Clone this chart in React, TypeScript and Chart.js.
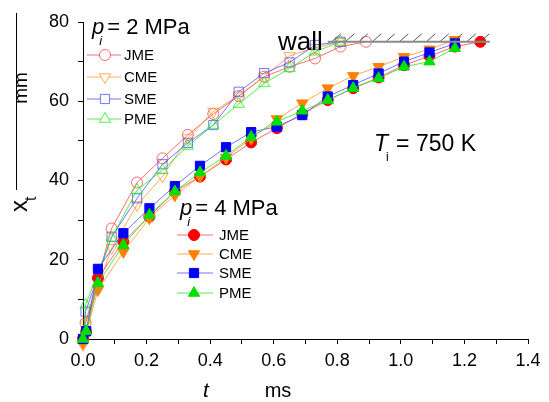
import { useEffect, useRef } from 'react';
import Chart from 'chart.js/auto';

// ---- Data (t in ms, x_t in mm) ----
const times2MPa = [0, 0.008, 0.09, 0.17, 0.25, 0.33, 0.41, 0.49, 0.57, 0.65, 0.73, 0.81, 0.89];
const jme2 = [0, 4, 27.9, 39.5, 45.6, 51.5, 56.8, 61.3, 66.2, 68.7, 70.8, 73.8, 75];
const cme2 = [-1.5, 4, 23, 33.8, 41.0, 50.7, 57.4, 61.5, 66.2, 71.5, 73.5, 75];
const sme2 = [0, 6.9, 25.8, 35.5, 44.1, 49.5, 54.0, 62.4, 67.1, 69.8, 74.2, 75];
const pme2 = [-0.3, 8.6, 25.5, 37.6, 42.6, 48.7, 54.0, 59.3, 64.5, 68.3, 72.5, 75];

const times4MPa = [0, 0.01, 0.047, 0.127, 0.209, 0.289, 0.368, 0.45, 0.529, 0.61, 0.69, 0.77, 0.85, 0.93, 1.01, 1.09, 1.17, 1.25];
const jme4 = [0, 1.8, 15.4, 24.6, 30.9, 37.2, 41.0, 45.3, 49.6, 53.2, 56.8, 60.3, 63.3, 66.0, 69.1, 71.4, 73.8, 75.0];
const cme4 = [-1, 1.5, 12.4, 22.0, 30.5, 36.3, 41.0, 45.8, 50.6, 55.5, 59.5, 63.3, 66.4, 68.7, 71.2, 73.1, 75.5];
const sme4 = [0, 2, 17.7, 26.7, 33.0, 38.6, 43.7, 48.4, 52.2, 53.6, 56.5, 61.2, 64.1, 67.0, 70.0, 72.3, 74.6];
const pme4 = [0, 2, 14.1, 23.7, 31.3, 37.2, 42.0, 46.2, 51.0, 54.8, 57.6, 60.3, 63.3, 65.8, 68.7, 70.0, 73.4];

const seriesNames = ['JME', 'CME', 'SME', 'PME'];
const values2MPa = [jme2, cme2, sme2, pme2];
const values4MPa = [jme4, cme4, sme4, pme4];

const xMin = 0, xMax = 1.4, xStep = 0.1, xLabelEvery = 0.2;
const yMin = 0, yMax = 80, yStep = 10, yLabelEvery = 20;

const wallLevel = 75;
const wallStart = 0.77;
const wallEnd = 1.28;

// ---- Styles ----
const solidColors = ['#ff0000', '#ff8000', '#0000ff', '#00e000'];
const lightColors = ['rgba(255,60,60,0.75)', 'rgba(255,150,50,0.8)', 'rgba(70,70,255,0.75)', 'rgba(40,230,40,0.8)'];
const pointStyles = ['circle', 'triangle', 'rect', 'triangle'];
const rotations = [0, 180, 0, 0];
const radii = [5.5, 6.5, 6.5, 6.5];
const drawOrder = [4, 3, 2, 1];
const FONT = '"Liberation Sans", Arial, sans-serif';

function drawMarker(ctx: CanvasRenderingContext2D, style: string, x: number, y: number, r: number, rotationDeg: number, fill: string | null, stroke: string) {
  ctx.save();
  ctx.beginPath();
  if (style === 'circle') {
    ctx.arc(x, y, r, 0, Math.PI * 2);
  } else if (style === 'rect') {
    const s = Math.SQRT1_2 * r;
    ctx.rect(x - s, y - s, 2 * s, 2 * s);
  } else {
    let rad = (rotationDeg * Math.PI) / 180;
    ctx.moveTo(x + Math.sin(rad) * r, y - Math.cos(rad) * r);
    rad += (2 * Math.PI) / 3;
    ctx.lineTo(x + Math.sin(rad) * r, y - Math.cos(rad) * r);
    rad += (2 * Math.PI) / 3;
    ctx.lineTo(x + Math.sin(rad) * r, y - Math.cos(rad) * r);
    ctx.closePath();
  }
  if (fill) {
    ctx.fillStyle = fill;
    ctx.fill();
  }
  ctx.strokeStyle = stroke;
  ctx.lineWidth = 1;
  ctx.stroke();
  ctx.restore();
}

type Seg = { text: string; font: string; dy?: number; dx?: number };
function drawSegs(ctx: CanvasRenderingContext2D, segs: Seg[], x: number, y: number) {
  let cx = x;
  for (const s of segs) {
    ctx.font = s.font;
    cx += s.dx || 0;
    ctx.fillText(s.text, cx, y + (s.dy || 0));
    cx += ctx.measureText(s.text).width;
  }
}

function drawLegend(ctx: CanvasRenderingContext2D, title: string, tx: number, ty: number, rowsY: number[], lineX0: number, lineX1: number, markerX: number, textX: number, filled: boolean) {
  ctx.save();
  ctx.fillStyle = '#000';
  ctx.textBaseline = 'alphabetic';
  ctx.textAlign = 'left';
  drawSegs(ctx, [
    { text: 'p', font: `italic 22px ${FONT}` },
    { text: 'i', font: `italic 13px ${FONT}`, dy: 11, dx: -5 },
    { text: ' = ' + title, font: `22px ${FONT}`, dx: -1 },
  ], tx, ty);
  seriesNames.forEach((name, i) => {
    const y = rowsY[i];
    ctx.strokeStyle = lightColors[i];
    ctx.lineWidth = 1;
    ctx.beginPath();
    ctx.moveTo(lineX0, y);
    ctx.lineTo(lineX1, y);
    ctx.stroke();
    drawMarker(ctx, pointStyles[i], markerX, y, radii[i], rotations[i], filled ? solidColors[i] : '#ffffff', filled ? solidColors[i] : lightColors[i]);
    ctx.fillStyle = '#000';
    ctx.font = `15px ${FONT}`;
    ctx.textBaseline = 'middle';
    ctx.fillText(name, textX, y + 1);
    ctx.textBaseline = 'alphabetic';
  });
  ctx.restore();
}

const annotationPlugin = {
  id: 'annotations',
  afterDraw(chart: any) {
    const ctx: CanvasRenderingContext2D = chart.ctx;
    const xs = chart.scales.x;
    const ys = chart.scales.y;
    ctx.save();
    ctx.fillStyle = '#000';

    // wall
    const wy = ys.getPixelForValue(wallLevel);
    const wx0 = xs.getPixelForValue(wallStart);
    const wx1 = xs.getPixelForValue(wallEnd);
    ctx.strokeStyle = '#555';
    ctx.lineWidth = 1;
    for (let hx = wx0 + 4; hx + 6 <= wx1 + 4; hx += 13.5) {
      ctx.beginPath();
      ctx.moveTo(hx, wy);
      ctx.lineTo(hx + 9, wy - 8);
      ctx.stroke();
    }
    ctx.strokeStyle = '#8a8a8a';
    ctx.lineWidth = 2;
    ctx.beginPath();
    ctx.moveTo(wx0, wy);
    ctx.lineTo(wx1, wy);
    ctx.stroke();
    ctx.font = `26px ${FONT}`;
    ctx.textAlign = 'left';
    ctx.textBaseline = 'alphabetic';
    ctx.fillText('wall', 278, 50);

    // T_i = 750 K
    drawSegs(ctx, [
      { text: 'T', font: `italic 23px ${FONT}` },
      { text: 'i', font: `12px ${FONT}`, dy: 10, dx: -2 },
      { text: ' = 750 K', font: `23px ${FONT}`, dx: 1 },
    ], 374, 151);

    // axis titles
    ctx.font = `italic 21px ${FONT}`;
    ctx.textAlign = 'center';
    ctx.fillText('t', 206, 397);
    ctx.font = `20px ${FONT}`;
    ctx.fillText('ms', 278, 397);

    ctx.save();
    ctx.translate(27, 212);
    ctx.rotate(-Math.PI / 2);
    ctx.textAlign = 'left';
    drawSegs(ctx, [
      { text: 'x', font: `24px ${FONT}` },
      { text: 't', font: `16px ${FONT}`, dy: 9, dx: -1 },
    ], 0, 0);
    ctx.restore();

    ctx.save();
    ctx.translate(27, 88);
    ctx.rotate(-Math.PI / 2);
    ctx.textAlign = 'center';
    ctx.font = `19px ${FONT}`;
    ctx.fillText('mm', 0, 0);
    ctx.restore();

    ctx.strokeStyle = '#000';
    ctx.lineWidth = 1;
    ctx.beginPath();
    ctx.moveTo(16.5, 13);
    ctx.lineTo(16.5, 190);
    ctx.stroke();

    ctx.restore();

    drawLegend(ctx, '2 MPa', 92, 34, [55, 77, 99, 119], 87, 121, 105, 124, false);
    drawLegend(ctx, '4 MPa', 180, 215, [235, 254, 273, 293], 177, 213, 194, 219, true);
  },
};

export default function App() {
  const canvasRef = useRef<HTMLCanvasElement | null>(null);

  useEffect(() => {
    if (!canvasRef.current) return;
    const datasets: any[] = [];
    values2MPa.forEach((vals, i) => {
      datasets.push({
        label: seriesNames[i] + ' 2 MPa',
        data: vals.map((v, k) => ({ x: times2MPa[k], y: v })),
        borderColor: lightColors[i],
        borderWidth: 1,
        backgroundColor: 'rgba(0,0,0,0)',
        pointStyle: pointStyles[i],
        pointRotation: rotations[i],
        pointRadius: radii[i],
        pointBorderWidth: 1,
        pointBorderColor: lightColors[i],
        pointBackgroundColor: 'rgba(0,0,0,0)',
        order: drawOrder[i] + 4,
        clip: false,
      });
    });
    values4MPa.forEach((vals, i) => {
      datasets.push({
        label: seriesNames[i] + ' 4 MPa',
        data: vals.map((v, k) => ({ x: times4MPa[k], y: v })),
        borderColor: lightColors[i],
        borderWidth: 1,
        backgroundColor: solidColors[i],
        pointStyle: pointStyles[i],
        pointRotation: rotations[i],
        pointRadius: radii[i],
        pointBorderWidth: 1,
        pointBorderColor: solidColors[i],
        pointBackgroundColor: solidColors[i],
        order: drawOrder[i],
        clip: false,
      });
    });

    const chart = new Chart(canvasRef.current, {
      type: 'line',
      data: { datasets },
      options: {
        animation: false,
        responsive: false,
        maintainAspectRatio: false,
        layout: { padding: { top: 22, right: 21, left: 0, bottom: 0 } },
        plugins: { legend: { display: false }, tooltip: { enabled: false } },
        elements: { line: { tension: 0 } },
        scales: {
          x: {
            type: 'linear',
            min: xMin,
            max: xMax,
            afterFit: (s: any) => { s.height = 63; },
            border: { display: true, color: '#000', width: 1 },
            grid: { drawOnChartArea: false, drawTicks: true, tickLength: 5, tickColor: '#000' },
            ticks: {
              stepSize: xStep,
              autoSkip: false,
              maxRotation: 0,
              padding: 6,
              color: '#000',
              font: { family: FONT, size: 18 },
              callback: (v: any) => {
                const n = Math.round(Number(v) / xStep);
                const every = Math.round(xLabelEvery / xStep);
                return n % every === 0 ? (n * xStep).toFixed(1) : '';
              },
            },
          },
          y: {
            type: 'linear',
            min: yMin,
            max: yMax,
            afterFit: (s: any) => { s.width = 83; },
            border: { display: true, color: '#000', width: 1 },
            grid: { drawOnChartArea: false, drawTicks: true, tickLength: 5, tickColor: '#000' },
            ticks: {
              stepSize: yStep,
              autoSkip: false,
              padding: 9,
              color: '#000',
              font: { family: FONT, size: 18 },
              callback: (v: any) => (Math.round(Number(v)) % yLabelEvery === 0 ? String(Math.round(Number(v))) : ''),
            },
          },
        },
      },
      plugins: [annotationPlugin],
    });
    return () => chart.destroy();
  }, []);

  return (
    <div style={{ position: 'absolute', left: 0, top: 0, width: 549, height: 402, background: '#fff' }}>
      <canvas ref={canvasRef} width={549} height={402} style={{ width: 549, height: 402, display: 'block' }} />
    </div>
  );
}
